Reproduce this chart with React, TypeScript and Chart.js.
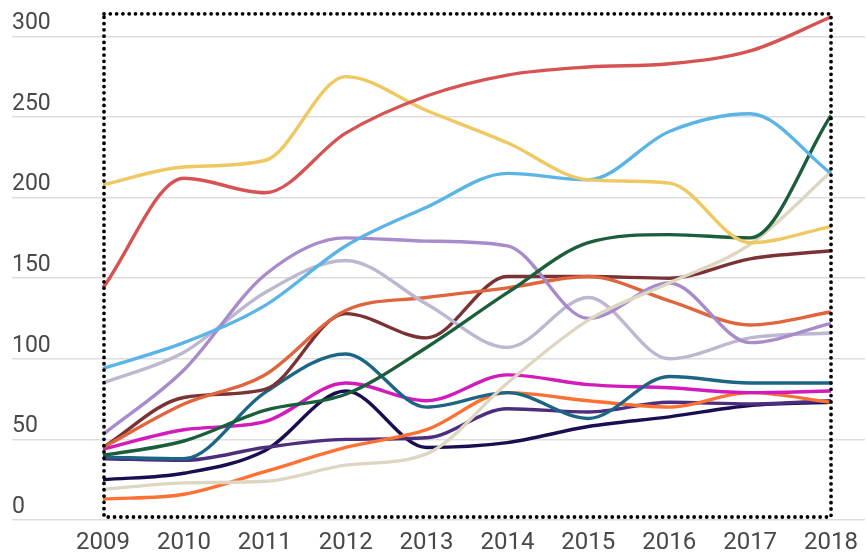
import React, { useEffect, useRef } from 'react';
import { Chart, registerables } from 'chart.js';

Chart.register(...registerables);

const years = ['2009', '2010', '2011', '2012', '2013', '2014', '2015', '2016', '2017', '2018'];
const yTicks = [0, 50, 100, 150, 200, 250, 300];
const Y_MAX = 314;

const red = [144, 212, 203, 240, 263, 276, 281, 283, 291, 312];
const yellow = [208, 219, 223, 275, 254, 234, 211, 209, 172, 182];
const skyBlue = [94, 110, 133, 170, 194, 215, 211, 241, 252, 215];
const darkGreen = [40, 49, 68, 78, 107, 141, 172, 177, 175, 251];
const cream = [19, 23, 24, 34, 41, 85, 124, 147, 171, 216];
const lavender = [53, 93, 152, 175, 173, 170, 125, 147, 110, 122];
const greyLilac = [85, 104, 141, 161, 134, 107, 138, 100, 113, 116];
const orangeRed = [45, 72, 90, 130, 138, 144, 151, 136, 121, 129];
const brown = [45, 76, 81, 128, 113, 151, 151, 150, 162, 167];
const teal = [39, 38, 79, 103, 70, 79, 63, 89, 85, 85];
const magenta = [44, 56, 61, 85, 74, 90, 84, 82, 79, 80];
const orange = [13, 16, 30, 45, 56, 79, 74, 70, 79, 73];
const darkPurple = [38, 37, 45, 50, 51, 69, 67, 73, 72, 74];
const navy = [25, 29, 43, 80, 45, 48, 58, 64, 71, 73];

const seriesList = [
  { data: red, color: '#d65353' },
  { data: yellow, color: '#f0c862' },
  { data: skyBlue, color: '#5ab4e5' },
  { data: darkGreen, color: '#1b5e3b' },
  { data: cream, color: '#ddd6c1' },
  { data: lavender, color: '#a88bcb' },
  { data: greyLilac, color: '#bdb8d0' },
  { data: orangeRed, color: '#e0643c' },
  { data: brown, color: '#7b3234' },
  { data: teal, color: '#1c6585' },
  { data: magenta, color: '#d21bbd' },
  { data: orange, color: '#ff7033' },
  { data: darkPurple, color: '#4d2d7d' },
  { data: navy, color: '#170f4f' },
];

const dottedFrame = {
  id: 'dottedFrame',
  afterDatasetsDraw(chart: any) {
    const { ctx, chartArea } = chart;
    const { left, right, top, bottom } = chartArea;
    ctx.save();
    ctx.strokeStyle = '#000000';
    ctx.lineWidth = 3.8;
    ctx.lineCap = 'round';
    ctx.setLineDash([0, 6.3]);
    ctx.beginPath();
    ctx.rect(left + 1, top, right - left - 1, bottom - 3 - top);
    ctx.stroke();
    ctx.restore();
  },
};

const gridColor = '#dddddd';
const textColor = '#484848';

export default function App() {
  const canvasRef = useRef<HTMLCanvasElement | null>(null);

  useEffect(() => {
    if (!canvasRef.current) return;
    const chart = new Chart(canvasRef.current, {
      type: 'line',
      data: {
        labels: years,
        datasets: seriesList.map((s) => ({
          data: s.data,
          borderColor: s.color,
          backgroundColor: s.color,
          borderWidth: 3.4,
          pointRadius: 0,
          fill: false,
          cubicInterpolationMode: 'monotone' as const,
          clip: false as any,
        })),
      },
      options: {
        responsive: false,
        animation: false,
        layout: { padding: { left: 12, right: 0, top: 13, bottom: 0 } },
        plugins: { legend: { display: false }, tooltip: { enabled: false } },
        scales: {
          x: {
            type: 'category',
            offset: false,
            grid: { display: false, drawTicks: false },
            border: { display: false },
            ticks: {
              color: textColor,
              font: { family: 'Roboto', size: 24 },
              padding: 9,
              maxRotation: 0,
              autoSkip: false,
            },
            afterFit: (s: any) => {
              s.height = 37;
            },
          },
          y: {
            type: 'linear',
            position: 'left',
            min: 0,
            max: Y_MAX,
            afterBuildTicks: (s: any) => {
              s.ticks = yTicks.map((v) => ({ value: v }));
            },
            afterFit: (s: any) => {
              s.width = 91;
            },
            border: { display: false },
            grid: { color: gridColor, lineWidth: 1.5, drawTicks: true, tickLength: 91 },
            ticks: {
              crossAlign: 'far',
              labelOffset: -13,
              padding: 0,
              color: textColor,
              font: { family: 'Roboto', size: 23 },
            },
          },
          y2: {
            type: 'linear',
            position: 'right',
            min: 0,
            max: Y_MAX,
            afterBuildTicks: (s: any) => {
              s.ticks = yTicks.map((v) => ({ value: v }));
            },
            afterFit: (s: any) => {
              s.width = 34;
            },
            border: { display: false },
            grid: { color: gridColor, lineWidth: 1.5, drawOnChartArea: false, drawTicks: true, tickLength: 34 },
            ticks: { display: false },
          },
        },
      } as any,
      plugins: [dottedFrame],
    });
    return () => chart.destroy();
  }, []);

  return (
    <div style={{ position: 'fixed', left: 0, top: 0, width: 867, height: 557, background: '#ffffff' }}>
      <canvas ref={canvasRef} width={867} height={557} style={{ display: 'block' }} />
    </div>
  );
}
